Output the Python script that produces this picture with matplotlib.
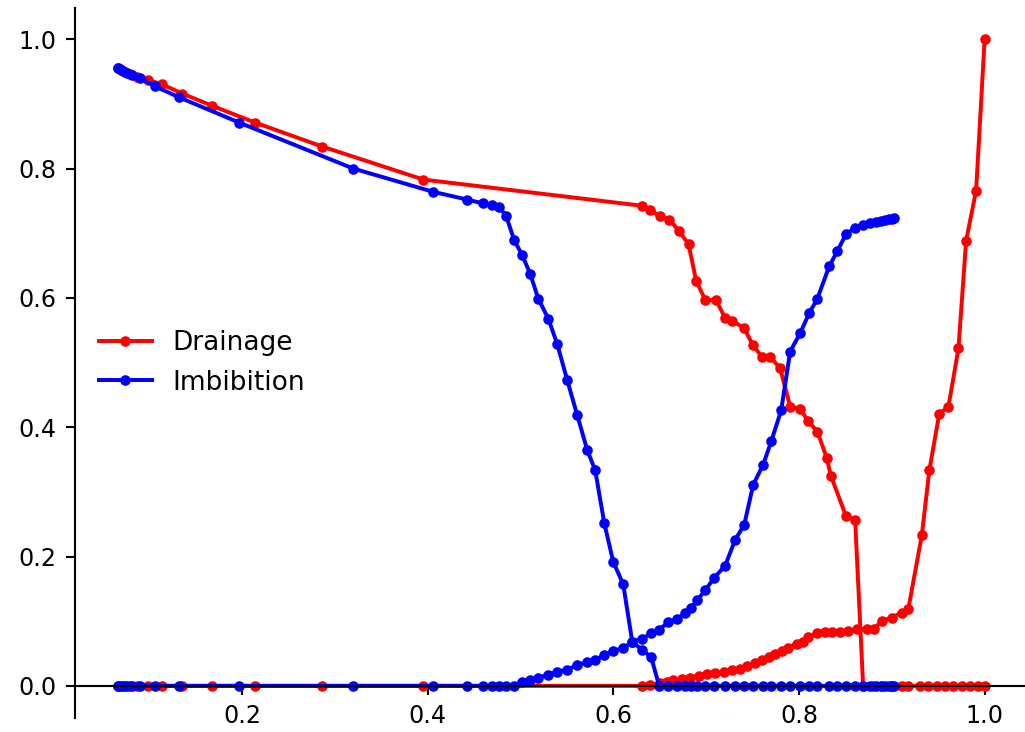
import matplotlib
matplotlib.use("Agg")
import matplotlib.pyplot as plt

# ---------------- Drainage ----------------
drain_kro_sw = [0.0668, 0.0700, 0.0743, 0.0797, 0.0872, 0.0991, 0.1142, 0.1357, 0.1680,
                0.2143, 0.2865, 0.3953, 0.6308, 0.6397, 0.6505, 0.6605, 0.6710, 0.6810,
                0.6893, 0.6990, 0.7108, 0.7205, 0.7277, 0.7410, 0.7503, 0.7600, 0.7690,
                0.7797, 0.7905, 0.8013, 0.8102, 0.8199, 0.8300, 0.8343, 0.8508, 0.8605,
                0.8691, 0.8799, 0.8896, 0.9004, 0.9111, 0.9176, 0.9305, 0.9391, 0.9488,
                0.9574, 0.9661, 0.9758, 0.9844, 0.9930, 1.0000]
drain_kro = [0.956, 0.953, 0.950, 0.946, 0.941, 0.937, 0.930, 0.916, 0.897,
             0.871, 0.834, 0.783, 0.7425, 0.736, 0.726, 0.721, 0.703, 0.683,
             0.626, 0.597, 0.596, 0.569, 0.565, 0.553, 0.527, 0.509, 0.509,
             0.491, 0.432, 0.428, 0.409, 0.393, 0.352, 0.325, 0.262, 0.256,
             0.0, 0.0, 0.0, 0.0, 0.0, 0.0, 0.0, 0.0, 0.0,
             0.0, 0.0, 0.0, 0.0, 0.0, 0.0]

drain_krw_sw = [0.0668, 0.0700, 0.0743, 0.0797, 0.0872, 0.0991, 0.1142, 0.1357, 0.1680,
                0.2143, 0.2865, 0.3953, 0.6308, 0.6397, 0.6505, 0.6575, 0.6648, 0.6739,
                0.6828, 0.6918, 0.7008, 0.7097, 0.7187, 0.7277, 0.7367, 0.7439, 0.7528,
                0.7600, 0.7672, 0.7744, 0.7816, 0.7887, 0.7977, 0.8048, 0.8102, 0.8193,
                0.8282, 0.8354, 0.8444, 0.8533, 0.8624, 0.8732, 0.8803, 0.8893, 0.9000,
                0.9108, 0.9179, 0.9323, 0.9405, 0.9510, 0.9610, 0.9718, 0.9800, 0.9908,
                1.0000]
drain_krw = [0.0, 0.0, 0.0, 0.0, 0.0, 0.0, 0.0, 0.0, 0.0,
             0.0, 0.0, 0.0, 0.0, 0.002, 0.004, 0.006, 0.0098, 0.0113,
             0.0129, 0.0155, 0.019, 0.0206, 0.0217, 0.0242, 0.0268, 0.0304, 0.0356,
             0.0397, 0.0449, 0.050, 0.0541, 0.0593, 0.0655, 0.068, 0.0758, 0.081,
             0.0835, 0.0835, 0.084, 0.0851, 0.0877, 0.0877, 0.0877, 0.1005, 0.1057,
             0.1134, 0.1196, 0.233, 0.334, 0.420, 0.432, 0.522, 0.688, 0.766,
             1.0]

# ---------------- Imbibition ----------------
imb_sw = [0.0668, 0.0689, 0.0722, 0.0765, 0.0819, 0.0905, 0.1066, 0.1325, 0.1971,
          0.3199, 0.4060, 0.4427, 0.4599, 0.4696, 0.4771, 0.4847, 0.4933, 0.5019,
          0.5105, 0.5191, 0.5299, 0.5396, 0.5504, 0.5611, 0.5719, 0.5805, 0.5902,
          0.5999, 0.6107, 0.6204, 0.6311, 0.6408, 0.6494, 0.6591, 0.6688, 0.6774,
          0.6839, 0.6904, 0.6990, 0.7087, 0.7205, 0.7313, 0.7410, 0.7507, 0.7614,
          0.7701, 0.7808, 0.7905, 0.8013, 0.8110, 0.8196, 0.8325, 0.8411, 0.8508,
          0.8605, 0.8691, 0.8767, 0.8831, 0.8885, 0.8928, 0.8971, 0.9004, 0.9025]
imb_kro = [0.956, 0.954, 0.951, 0.948, 0.945, 0.940, 0.927, 0.910, 0.871,
           0.800, 0.764, 0.752, 0.746, 0.743, 0.741, 0.726, 0.689, 0.666,
           0.637, 0.599, 0.568, 0.5285, 0.4725, 0.4187, 0.3647, 0.3333, 0.2521,
           0.192, 0.1568, 0.0679, 0.0558, 0.0444, 0.0, 0.0, 0.0, 0.0,
           0.0, 0.0, 0.0, 0.0, 0.0, 0.0, 0.0, 0.0, 0.0,
           0.0, 0.0, 0.0, 0.0, 0.0, 0.0, 0.0, 0.0, 0.0,
           0.0, 0.0, 0.0, 0.0, 0.0, 0.0, 0.0, 0.0, 0.0]
imb_krw = [0.0, 0.0, 0.0, 0.0, 0.0, 0.0, 0.0, 0.0, 0.0,
           0.0, 0.0, 0.0, 0.0, 0.0, 0.0, 0.0, 0.0, 0.0062,
           0.0088, 0.0124, 0.0175, 0.0217, 0.0253, 0.032, 0.0371, 0.0407, 0.0474,
           0.0536, 0.0588, 0.068, 0.0732, 0.081, 0.0871, 0.098, 0.104, 0.112,
           0.120, 0.1325, 0.148, 0.167, 0.186, 0.226, 0.249, 0.311, 0.342,
           0.378, 0.426, 0.517, 0.5455, 0.5765, 0.598, 0.6486, 0.6718, 0.699,
           0.708, 0.713, 0.716, 0.718, 0.7195, 0.721, 0.722, 0.7225, 0.723]

legend_labels = ["Drainage", "Imbibition"]

DPI = 190
fig = plt.figure(figsize=(1025 / DPI, 732 / DPI), dpi=DPI)
ax = fig.add_axes([75 / 1025, 14 / 732, 953 / 1025, 710 / 732])

ax.plot(drain_kro_sw, drain_kro, "r.-", label=legend_labels[0])
ax.plot(drain_krw_sw, drain_krw, "r.-")
ax.plot(imb_sw, imb_kro, "b.-", label=legend_labels[1])
ax.plot(imb_sw, imb_krw, "b.-")

ax.set_xlim(0.0201, 1.0467)
ax.set_ylim(-0.0497, 1.0483)
ax.set_xticks([0.2, 0.4, 0.6, 0.8, 1.0])
ax.set_yticks([0.0, 0.2, 0.4, 0.6, 0.8, 1.0])
ax.tick_params(labelsize=9)

ax.spines["top"].set_visible(False)
ax.spines["right"].set_visible(False)
ax.spines["bottom"].set_position(("data", 0.0))

ax.legend(loc="center left", frameon=False, fontsize=10)

fig.savefig("out.png", dpi=DPI)
